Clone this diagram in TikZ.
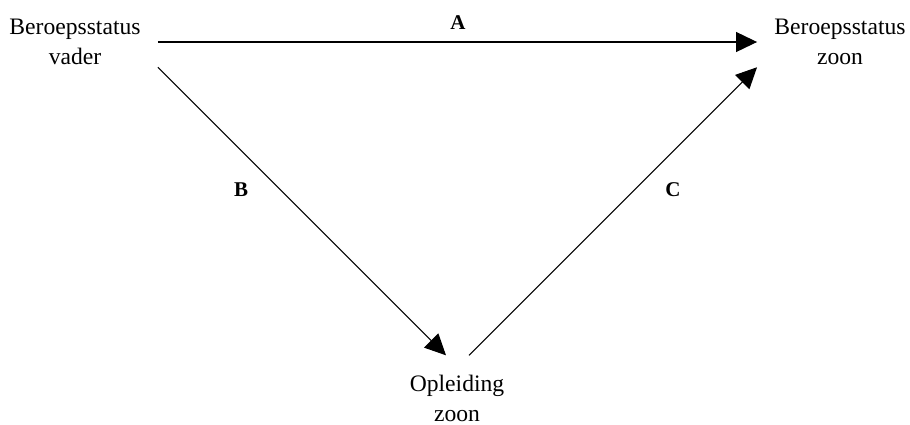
\documentclass[tikz,border=0pt]{standalone}
\usepackage{fontspec}
\setmainfont{Liberation Serif}
\usetikzlibrary{arrows.meta,positioning}

\begin{document}
\begin{tikzpicture}[x=0.5pt,y=-0.5pt,
status/.style={rectangle, inner xsep=8.5pt, inner ysep=1pt, align=center, font=\fontsize{11.8}{15}\selectfont},
path/.style={inner sep=0pt, font=\fontsize{10.5}{12}\selectfont\bfseries},
flow/.style={-{Triangle[length=10.5pt,width=10pt]}, line width=0.55pt}
]
\useasboundingbox (0,0) rectangle (910,424);
\node[status] (vader) at (75,42) {Beroepsstatus\\vader};
\node[status] (zoon) at (840,42) {Beroepsstatus\\zoon};
\node[status] (opleiding) at (457,398) {Opleiding\\zoon};
\node[path] (a) at (458,23) {A};
\node[path] (b) at (241,190) {B};
\node[path] (c) at (673,190) {C};
\draw[flow] (vader) -- (zoon);
\draw[flow] (vader.south east) -- ([xshift=-5.5pt,yshift=8.5pt]opleiding.north);
\draw[flow] ([xshift=6pt,yshift=8.5pt]opleiding.north) -- (zoon.south west);
\end{tikzpicture}
\end{document}
